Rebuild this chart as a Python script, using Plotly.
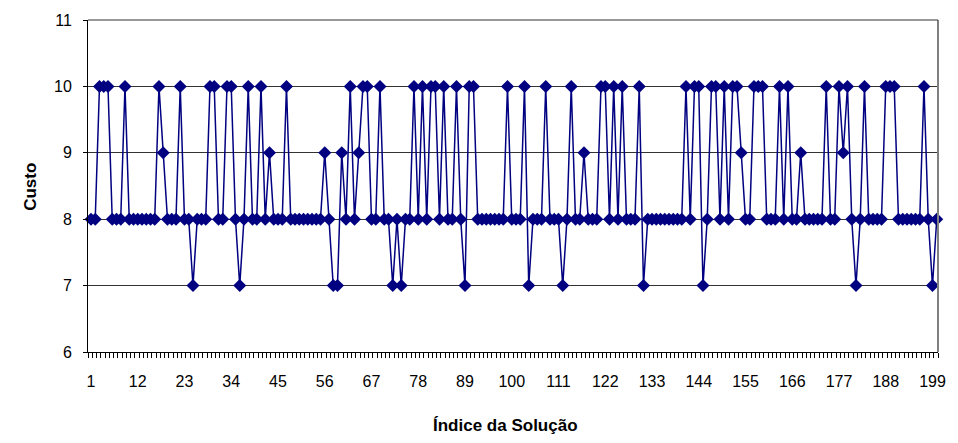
import plotly.graph_objects as go

# ---- data ----
indices = list(range(1, 201))
custo = [
    8, 8, 10, 10, 10, 8, 8, 8, 10, 8,          # 1-10
    8, 8, 8, 8, 8, 8, 10, 9, 8, 8,             # 11-20
    8, 10, 8, 8, 7, 8, 8, 8, 10, 10,           # 21-30
    8, 8, 10, 10, 8, 7, 8, 10, 8, 8,           # 31-40
    10, 8, 9, 8, 8, 8, 10, 8, 8, 8,            # 41-50
    8, 8, 8, 8, 8, 9, 8, 7, 7, 9,              # 51-60
    8, 10, 8, 9, 10, 10, 8, 8, 10, 8,          # 61-70
    8, 7, 8, 7, 8, 8, 10, 8, 10, 8,            # 71-80
    10, 10, 8, 10, 8, 8, 10, 8, 7, 10,         # 81-90
    10, 8, 8, 8, 8, 8, 8, 8, 10, 8,            # 91-100
    8, 8, 10, 7, 8, 8, 8, 10, 8, 8,            # 101-110
    8, 7, 8, 10, 8, 8, 9, 8, 8, 8,             # 111-120
    10, 10, 8, 10, 8, 10, 8, 8, 8, 10,         # 121-130
    7, 8, 8, 8, 8, 8, 8, 8, 8, 8,              # 131-140
    10, 8, 10, 10, 7, 8, 10, 10, 8, 10,        # 141-150
    8, 10, 10, 9, 8, 8, 10, 10, 10, 8,         # 151-160
    8, 8, 10, 8, 10, 8, 8, 9, 8, 8,            # 161-170
    8, 8, 8, 10, 8, 8, 10, 9, 10, 8,           # 171-180
    7, 8, 10, 8, 8, 8, 8, 10, 10, 10,          # 181-190
    8, 8, 8, 8, 8, 8, 10, 8, 7, 8,             # 191-200
]
x_tick_vals = list(range(1, 200, 11))
x_tick_text = [str(v) for v in x_tick_vals]
y_tick_vals = [6, 7, 8, 9, 10, 11]
y_tick_text = [str(v) for v in y_tick_vals]
x_title = "Índice da Solução"
y_title = "Custo"

NAVY = "#000080"
FONT = "Liberation Sans, Arial, sans-serif"

fig = go.Figure(
    go.Scatter(
        x=indices,
        y=custo,
        mode="lines+markers",
        line=dict(color=NAVY, width=1.5),
        marker=dict(symbol="diamond", size=10, color=NAVY),
        cliponaxis=False,
        hoverinfo="x+y",
    )
)

fig.update_layout(
    width=958,
    height=443,
    margin=dict(l=88, r=15, t=17, b=91),
    paper_bgcolor="white",
    plot_bgcolor="white",
    showlegend=False,
    font=dict(family=FONT, size=16, color="black"),
)

fig.update_xaxes(
    range=[0.3, 200.3],
    tickmode="array",
    tickvals=x_tick_vals,
    ticktext=x_tick_text,
    ticks="",
    ticklabelstandoff=15,
    showgrid=False,
    zeroline=False,
    showline=True,
    linecolor="black",
    linewidth=1,
    tickfont=dict(family=FONT, size=16, color="black"),
    minor=dict(tick0=0.3, dtick=1, ticks="outside", ticklen=5,
               tickcolor="black", tickwidth=1, showgrid=False),
)

fig.update_yaxes(
    range=[6, 11],
    tickmode="array",
    tickvals=y_tick_vals,
    ticktext=y_tick_text,
    ticks="outside",
    ticklen=4,
    tickcolor="black",
    ticklabelstandoff=8,
    showgrid=True,
    gridcolor="#333333",
    gridwidth=1,
    zeroline=False,
    showline=True,
    linecolor="black",
    linewidth=1,
    tickfont=dict(family=FONT, size=16, color="black"),
)

# right border of the plot area (grey) and top line
fig.add_shape(type="line", xref="paper", yref="paper", x0=1, x1=1, y0=0, y1=1,
              line=dict(color="#808080", width=2))
fig.add_shape(type="line", xref="paper", yref="paper", x0=0, x1=1, y0=1, y1=1,
              line=dict(color="#333333", width=1))

# axis titles
fig.add_annotation(text="<b>" + x_title + "</b>", xref="paper", yref="paper",
                   x=(508 - 88) / 855, y=(352 - 426) / 335, showarrow=False,
                   xanchor="center", yanchor="middle",
                   font=dict(family=FONT, size=17, color="black"))
fig.add_annotation(text="<b>" + y_title + "</b>", xref="paper", yref="paper",
                   x=(30 - 88) / 855, y=(352 - 185) / 335, showarrow=False,
                   textangle=-90, xanchor="center", yanchor="middle",
                   font=dict(family=FONT, size=17, color="black"))

fig.write_html("out.html")
